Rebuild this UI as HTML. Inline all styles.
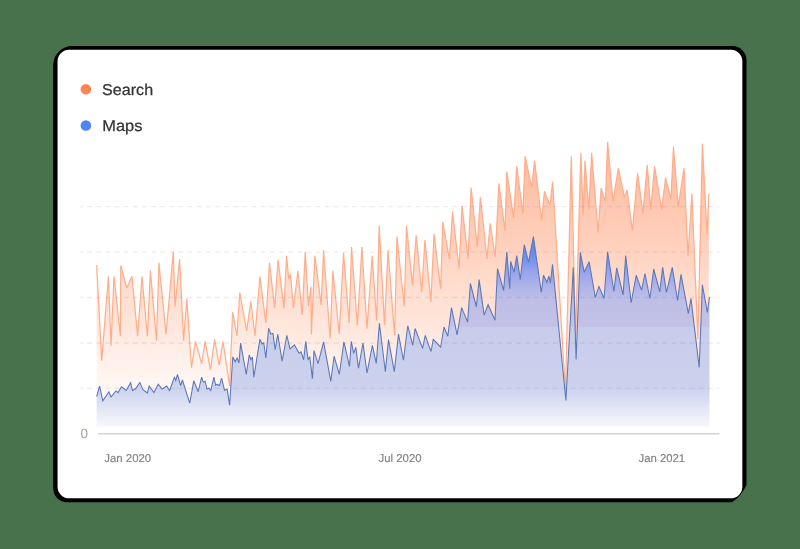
<!DOCTYPE html>
<html><head><meta charset="utf-8"><title>Search vs Maps</title>
<style>
html,body{margin:0;padding:0;}
body{width:800px;height:549px;overflow:hidden;background:#47724c;font-family:"Liberation Sans",sans-serif;}
svg{display:block;will-change:transform;}
text{font-family:"Liberation Sans",sans-serif;text-rendering:geometricPrecision;}
</style></head>
<body>
<svg width="800" height="549" viewBox="0 0 800 549">
<defs>
<linearGradient id="go" gradientUnits="userSpaceOnUse" x1="0" y1="140" x2="0" y2="427">
<stop offset="0.0000" stop-color="#ff8552" stop-opacity="0.600"/>
<stop offset="0.2091" stop-color="#ff8552" stop-opacity="0.470"/>
<stop offset="0.3833" stop-color="#ff8552" stop-opacity="0.370"/>
<stop offset="0.5226" stop-color="#ff8552" stop-opacity="0.265"/>
<stop offset="0.6028" stop-color="#ff8552" stop-opacity="0.235"/>
<stop offset="0.6899" stop-color="#ff8552" stop-opacity="0.175"/>
<stop offset="0.7491" stop-color="#ff8552" stop-opacity="0.130"/>
<stop offset="0.8293" stop-color="#ff8552" stop-opacity="0.085"/>
<stop offset="0.9059" stop-color="#ff8552" stop-opacity="0.040"/>
<stop offset="1.0000" stop-color="#ff8552" stop-opacity="0.000"/>
</linearGradient>
<linearGradient id="gb" gradientUnits="userSpaceOnUse" x1="0" y1="236" x2="0" y2="427">
<stop offset="0.0000" stop-color="#5a83f3"/>
<stop offset="0.0733" stop-color="#648af1"/>
<stop offset="0.1361" stop-color="#7c94ed"/>
<stop offset="0.1780" stop-color="#94a2ec"/>
<stop offset="0.2304" stop-color="#a5adea"/>
<stop offset="0.2827" stop-color="#b4b7e8"/>
<stop offset="0.3351" stop-color="#bebee7"/>
<stop offset="0.4749" stop-color="#c3c1e6"/>
<stop offset="0.4759" stop-color="#c8cceb"/>
<stop offset="0.7958" stop-color="#ccd2ee"/>
<stop offset="0.8586" stop-color="#d8def2"/>
<stop offset="0.9110" stop-color="#e4e8f6"/>
<stop offset="0.9686" stop-color="#f1f3fa"/>
<stop offset="1.0000" stop-color="#f7f7fa"/>
</linearGradient>
</defs>
<path d="M72.2,46.1 H732.5 A14,14 0 0 1 746.5,60.1 V485 Q741,496.5 732,502.3 H67.2 A14,14 0 0 1 53.2,488.3 V65.1 A19,19 0 0 1 72.2,46.1 Z" fill="#000"/>
<rect x="57.55" y="49.8" width="684.8" height="448.5" rx="11.5" ry="11.5" fill="#fff"/>
<circle cx="85.9" cy="89.3" r="5.3" fill="#ff8552"/>
<circle cx="85.9" cy="125.5" r="5.3" fill="#4f86f7"/>
<text transform="translate(102.1,95.0) scale(1.032,1)" font-size="15.6" fill="#333" stroke="#333" stroke-width="0.25">Search</text>
<text transform="translate(102.25,131.0) scale(1.052,1)" font-size="15.6" fill="#333" stroke="#333" stroke-width="0.25">Maps</text>
<path d="M96.65,426.50 L96.65,265.00 L101.70,360.60 L108.40,276.20 L111.00,345.70 L114.00,276.20 L120.40,336.10 L120.80,265.40 L126.75,288.10 L132.00,276.20 L137.60,336.10 L142.00,276.20 L147.40,336.10 L150.40,270.60 L156.50,340.65 L158.95,262.75 L166.10,334.30 L173.30,251.40 L175.05,306.50 L179.60,259.25 L183.60,340.65 L186.80,298.60 L191.50,367.60 L195.50,341.35 L201.65,363.75 L205.15,341.35 L210.40,369.90 L214.60,339.25 L219.15,365.15 L223.00,341.60 L229.60,386.00 L232.60,311.90 L237.00,335.80 L239.80,292.50 L246.60,330.90 L250.80,301.40 L255.00,335.80 L259.90,276.40 L265.85,322.90 L269.50,262.90 L274.60,308.20 L278.10,259.75 L283.90,308.20 L286.50,255.70 L288.80,279.00 L290.50,274.30 L293.50,308.20 L297.90,270.80 L302.25,314.90 L305.20,251.90 L308.40,306.10 L311.00,286.50 L311.40,334.40 L314.85,255.70 L321.15,304.90 L323.60,250.10 L330.10,338.40 L332.90,270.80 L339.20,334.00 L343.55,252.75 L349.15,322.90 L351.50,247.10 L357.35,325.30 L361.90,247.00 L367.00,328.60 L372.20,255.75 L376.60,320.75 L379.20,225.65 L384.50,325.10 L388.00,250.15 L394.60,335.60 L396.90,236.85 L404.25,306.40 L406.50,225.65 L412.50,285.40 L416.15,235.30 L421.75,291.90 L424.90,240.00 L430.85,301.85 L434.00,233.90 L440.65,289.25 L442.75,222.00 L449.40,259.00 L452.55,211.50 L459.10,268.50 L462.00,205.90 L468.10,259.00 L471.10,187.50 L477.20,246.10 L480.40,197.20 L487.00,259.00 L490.15,223.30 L495.20,257.25 L498.90,183.40 L505.00,231.00 L506.80,171.50 L513.60,218.10 L516.75,166.40 L522.90,213.60 L525.15,156.25 L531.60,187.40 L534.60,160.60 L541.60,220.70 L544.40,191.25 L550.00,205.25 L552.60,181.60 L565.50,392.00 L571.30,156.25 L575.60,336.00 L580.80,152.75 L583.25,215.50 L585.00,160.60 L588.85,209.30 L591.65,152.75 L598.10,232.75 L601.10,188.30 L605.40,201.50 L607.60,141.70 L613.05,201.75 L618.30,168.15 L624.50,197.40 L627.10,190.00 L632.40,230.65 L637.60,173.20 L642.90,213.30 L647.25,165.00 L650.75,209.30 L654.60,166.40 L661.60,209.30 L665.60,177.60 L670.90,199.10 L673.50,146.60 L678.20,207.00 L684.00,168.15 L688.00,256.40 L691.90,193.50 L697.90,338.65 L702.40,143.65 L707.10,234.50 L708.85,193.50 L708.85,426.50 Z" fill="url(#go)"/>
<polyline points="96.65,265.00 101.70,360.60 108.40,276.20 111.00,345.70 114.00,276.20 120.40,336.10 120.80,265.40 126.75,288.10 132.00,276.20 137.60,336.10 142.00,276.20 147.40,336.10 150.40,270.60 156.50,340.65 158.95,262.75 166.10,334.30 173.30,251.40 175.05,306.50 179.60,259.25 183.60,340.65 186.80,298.60 191.50,367.60 195.50,341.35 201.65,363.75 205.15,341.35 210.40,369.90 214.60,339.25 219.15,365.15 223.00,341.60 229.60,386.00 232.60,311.90 237.00,335.80 239.80,292.50 246.60,330.90 250.80,301.40 255.00,335.80 259.90,276.40 265.85,322.90 269.50,262.90 274.60,308.20 278.10,259.75 283.90,308.20 286.50,255.70 288.80,279.00 290.50,274.30 293.50,308.20 297.90,270.80 302.25,314.90 305.20,251.90 308.40,306.10 311.00,286.50 311.40,334.40 314.85,255.70 321.15,304.90 323.60,250.10 330.10,338.40 332.90,270.80 339.20,334.00 343.55,252.75 349.15,322.90 351.50,247.10 357.35,325.30 361.90,247.00 367.00,328.60 372.20,255.75 376.60,320.75 379.20,225.65 384.50,325.10 388.00,250.15 394.60,335.60 396.90,236.85 404.25,306.40 406.50,225.65 412.50,285.40 416.15,235.30 421.75,291.90 424.90,240.00 430.85,301.85 434.00,233.90 440.65,289.25 442.75,222.00 449.40,259.00 452.55,211.50 459.10,268.50 462.00,205.90 468.10,259.00 471.10,187.50 477.20,246.10 480.40,197.20 487.00,259.00 490.15,223.30 495.20,257.25 498.90,183.40 505.00,231.00 506.80,171.50 513.60,218.10 516.75,166.40 522.90,213.60 525.15,156.25 531.60,187.40 534.60,160.60 541.60,220.70 544.40,191.25 550.00,205.25 552.60,181.60 565.50,392.00 571.30,156.25 575.60,336.00 580.80,152.75 583.25,215.50 585.00,160.60 588.85,209.30 591.65,152.75 598.10,232.75 601.10,188.30 605.40,201.50 607.60,141.70 613.05,201.75 618.30,168.15 624.50,197.40 627.10,190.00 632.40,230.65 637.60,173.20 642.90,213.30 647.25,165.00 650.75,209.30 654.60,166.40 661.60,209.30 665.60,177.60 670.90,199.10 673.50,146.60 678.20,207.00 684.00,168.15 688.00,256.40 691.90,193.50 697.90,338.65 702.40,143.65 707.10,234.50 708.85,193.50" fill="none" stroke="#ffad8a" stroke-width="1.2" stroke-linejoin="miter" stroke-miterlimit="3"/>
<path d="M96.65,426.50 L96.65,396.50 L99.60,386.15 L102.80,400.85 L108.90,391.75 L111.00,397.00 L115.90,390.90 L118.00,392.60 L121.50,386.85 L126.20,390.50 L130.60,382.65 L132.50,390.50 L135.50,388.80 L139.90,382.65 L143.00,389.65 L147.40,393.00 L149.15,386.00 L153.90,392.60 L158.25,384.20 L162.10,389.10 L166.65,386.00 L169.60,390.50 L174.35,377.40 L175.75,380.40 L177.50,374.50 L180.65,385.60 L182.40,380.00 L189.75,403.10 L193.80,380.70 L198.15,391.75 L201.65,377.20 L203.40,382.10 L205.15,381.25 L206.90,389.10 L209.00,388.25 L210.75,390.50 L213.90,377.20 L215.65,385.30 L216.90,384.40 L219.50,385.60 L221.60,378.20 L224.50,390.20 L227.20,389.30 L229.60,405.20 L232.80,356.80 L235.20,361.85 L237.15,358.00 L238.90,362.90 L240.65,343.10 L246.25,374.30 L249.20,355.00 L251.00,359.75 L252.40,357.10 L253.80,377.25 L259.90,339.30 L262.00,344.00 L263.75,342.80 L265.85,358.00 L268.65,328.25 L270.75,334.00 L273.00,333.50 L275.10,349.80 L277.75,334.40 L282.10,361.15 L286.85,335.25 L290.00,348.90 L294.40,344.90 L299.10,353.30 L301.00,351.90 L303.65,359.75 L305.75,341.40 L308.00,359.40 L309.80,357.10 L312.40,378.65 L314.00,350.65 L318.00,363.60 L323.60,341.90 L330.80,381.30 L334.10,356.25 L339.35,374.30 L343.90,341.90 L349.50,366.40 L351.25,341.40 L353.70,353.40 L355.80,347.30 L358.50,368.10 L363.00,343.00 L367.00,373.00 L372.40,345.30 L376.25,363.40 L379.40,323.30 L385.35,371.60 L388.50,339.60 L394.30,371.60 L398.50,334.10 L403.40,360.25 L407.75,325.70 L412.80,345.30 L415.10,328.50 L422.60,348.40 L425.25,335.40 L431.00,351.50 L433.30,339.40 L440.65,347.10 L444.00,327.00 L447.80,336.20 L451.50,307.60 L457.10,334.80 L461.65,307.60 L467.60,322.15 L470.40,283.50 L476.35,306.75 L479.15,279.60 L484.10,315.10 L488.10,304.70 L495.00,320.30 L497.50,268.60 L503.60,290.50 L506.80,252.00 L509.75,288.75 L510.60,261.30 L514.10,272.10 L516.75,255.50 L520.25,279.65 L524.30,244.65 L528.50,262.15 L533.40,236.60 L541.25,292.25 L543.50,275.30 L546.80,282.30 L549.00,276.20 L550.40,283.20 L552.50,264.40 L565.90,400.50 L573.30,267.20 L576.10,359.50 L580.30,252.40 L584.20,272.30 L589.20,261.75 L595.30,297.60 L598.90,286.45 L604.05,298.50 L607.60,251.90 L613.90,291.50 L616.70,267.75 L623.10,294.90 L625.70,255.50 L631.15,302.75 L636.20,275.30 L641.50,290.15 L645.00,273.50 L649.90,298.50 L653.70,269.00 L659.80,291.90 L662.65,267.40 L666.45,292.50 L672.30,267.40 L677.60,300.50 L681.00,274.40 L688.30,313.30 L691.00,298.60 L699.20,367.40 L702.35,284.80 L707.40,312.40 L709.50,296.80 L709.50,426.50 Z" fill="url(#gb)"/>
<polyline points="96.65,396.50 99.60,386.15 102.80,400.85 108.90,391.75 111.00,397.00 115.90,390.90 118.00,392.60 121.50,386.85 126.20,390.50 130.60,382.65 132.50,390.50 135.50,388.80 139.90,382.65 143.00,389.65 147.40,393.00 149.15,386.00 153.90,392.60 158.25,384.20 162.10,389.10 166.65,386.00 169.60,390.50 174.35,377.40 175.75,380.40 177.50,374.50 180.65,385.60 182.40,380.00 189.75,403.10 193.80,380.70 198.15,391.75 201.65,377.20 203.40,382.10 205.15,381.25 206.90,389.10 209.00,388.25 210.75,390.50 213.90,377.20 215.65,385.30 216.90,384.40 219.50,385.60 221.60,378.20 224.50,390.20 227.20,389.30 229.60,405.20 232.80,356.80 235.20,361.85 237.15,358.00 238.90,362.90 240.65,343.10 246.25,374.30 249.20,355.00 251.00,359.75 252.40,357.10 253.80,377.25 259.90,339.30 262.00,344.00 263.75,342.80 265.85,358.00 268.65,328.25 270.75,334.00 273.00,333.50 275.10,349.80 277.75,334.40 282.10,361.15 286.85,335.25 290.00,348.90 294.40,344.90 299.10,353.30 301.00,351.90 303.65,359.75 305.75,341.40 308.00,359.40 309.80,357.10 312.40,378.65 314.00,350.65 318.00,363.60 323.60,341.90 330.80,381.30 334.10,356.25 339.35,374.30 343.90,341.90 349.50,366.40 351.25,341.40 353.70,353.40 355.80,347.30 358.50,368.10 363.00,343.00 367.00,373.00 372.40,345.30 376.25,363.40 379.40,323.30 385.35,371.60 388.50,339.60 394.30,371.60 398.50,334.10 403.40,360.25 407.75,325.70 412.80,345.30 415.10,328.50 422.60,348.40 425.25,335.40 431.00,351.50 433.30,339.40 440.65,347.10 444.00,327.00 447.80,336.20 451.50,307.60 457.10,334.80 461.65,307.60 467.60,322.15 470.40,283.50 476.35,306.75 479.15,279.60 484.10,315.10 488.10,304.70 495.00,320.30 497.50,268.60 503.60,290.50 506.80,252.00 509.75,288.75 510.60,261.30 514.10,272.10 516.75,255.50 520.25,279.65 524.30,244.65 528.50,262.15 533.40,236.60 541.25,292.25 543.50,275.30 546.80,282.30 549.00,276.20 550.40,283.20 552.50,264.40 565.90,400.50 573.30,267.20 576.10,359.50 580.30,252.40 584.20,272.30 589.20,261.75 595.30,297.60 598.90,286.45 604.05,298.50 607.60,251.90 613.90,291.50 616.70,267.75 623.10,294.90 625.70,255.50 631.15,302.75 636.20,275.30 641.50,290.15 645.00,273.50 649.90,298.50 653.70,269.00 659.80,291.90 662.65,267.40 666.45,292.50 672.30,267.40 677.60,300.50 681.00,274.40 688.30,313.30 691.00,298.60 699.20,367.40 702.35,284.80 707.40,312.40 709.50,296.80" fill="none" stroke="#5a77b6" stroke-width="1.05" stroke-linejoin="miter" stroke-miterlimit="3"/>
<g stroke="#6e6e96" stroke-opacity="0.14" stroke-width="1.3" stroke-dasharray="4.6 4.526" stroke-dashoffset="2.3"><line x1="80.5" x2="719.3" y1="206.6" y2="206.6"/><line x1="80.5" x2="719.3" y1="252.1" y2="252.1"/><line x1="80.5" x2="719.3" y1="297.5" y2="297.5"/><line x1="80.5" x2="719.3" y1="343.0" y2="343.0"/><line x1="80.5" x2="719.3" y1="388.4" y2="388.4"/></g>
<line x1="98" x2="719.3" y1="433.7" y2="433.7" stroke="#cfd3e0" stroke-width="1.5"/>
<text x="80.4" y="437.9" font-size="13.4" fill="#9a9db8">0</text>
<text x="104.3" y="461.5" font-size="11.4" fill="#828282" stroke="#828282" stroke-width="0.15">Jan 2020</text>
<text x="378.5" y="461.5" font-size="11.4" fill="#828282" stroke="#828282" stroke-width="0.15">Jul 2020</text>
<text x="638.5" y="461.5" font-size="11.35" fill="#828282" stroke="#828282" stroke-width="0.15">Jan 2021</text>
</svg>
</body></html>
